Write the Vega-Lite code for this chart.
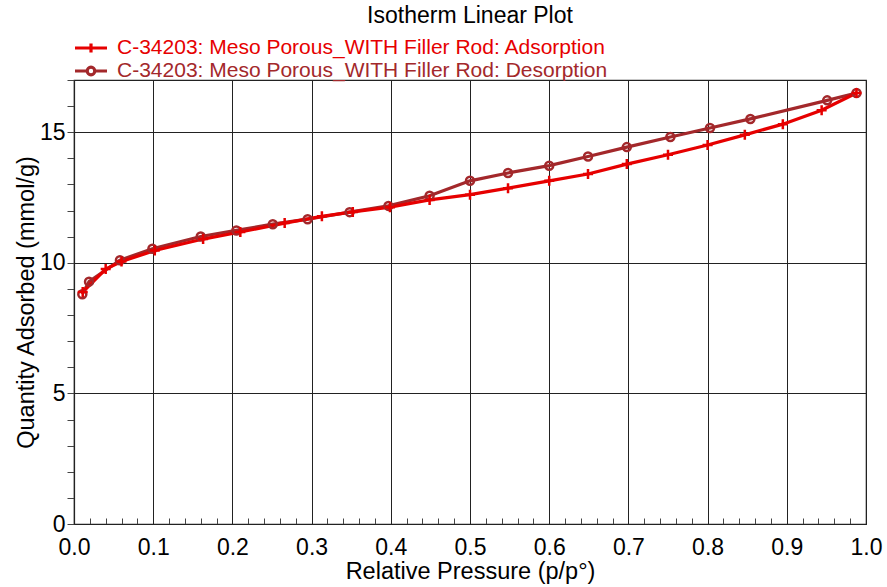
{
  "$schema": "https://vega.github.io/schema/vega-lite/v6.json",
  "width": 792,
  "height": 444,
  "autosize": "none",
  "padding": {"left": 74, "top": 80, "right": 21, "bottom": 63},
  "background": "white",
  "config": {
    "font": "Liberation Sans",
    "view": {"stroke": "#222", "strokeWidth": 1.2}
  },
  "title": {
    "text": "Isotherm Linear Plot",
    "fontSize": 23,
    "fontWeight": "normal",
    "color": "black",
    "anchor": "middle",
    "offset": 8,
    "font": "Liberation Sans"
  },
  "data": {
    "values": [
      {"series": "C-34203: Meso Porous_WITH Filler Rod: Desorption", "p": 0.988, "q": 16.50},
      {"series": "C-34203: Meso Porous_WITH Filler Rod: Desorption", "p": 0.951, "q": 16.22},
      {"series": "C-34203: Meso Porous_WITH Filler Rod: Desorption", "p": 0.854, "q": 15.51},
      {"series": "C-34203: Meso Porous_WITH Filler Rod: Desorption", "p": 0.803, "q": 15.16},
      {"series": "C-34203: Meso Porous_WITH Filler Rod: Desorption", "p": 0.753, "q": 14.82},
      {"series": "C-34203: Meso Porous_WITH Filler Rod: Desorption", "p": 0.698, "q": 14.43},
      {"series": "C-34203: Meso Porous_WITH Filler Rod: Desorption", "p": 0.649, "q": 14.07},
      {"series": "C-34203: Meso Porous_WITH Filler Rod: Desorption", "p": 0.600, "q": 13.72},
      {"series": "C-34203: Meso Porous_WITH Filler Rod: Desorption", "p": 0.548, "q": 13.44},
      {"series": "C-34203: Meso Porous_WITH Filler Rod: Desorption", "p": 0.500, "q": 13.14},
      {"series": "C-34203: Meso Porous_WITH Filler Rod: Desorption", "p": 0.449, "q": 12.57},
      {"series": "C-34203: Meso Porous_WITH Filler Rod: Desorption", "p": 0.397, "q": 12.18},
      {"series": "C-34203: Meso Porous_WITH Filler Rod: Desorption", "p": 0.348, "q": 11.94},
      {"series": "C-34203: Meso Porous_WITH Filler Rod: Desorption", "p": 0.295, "q": 11.67},
      {"series": "C-34203: Meso Porous_WITH Filler Rod: Desorption", "p": 0.251, "q": 11.48},
      {"series": "C-34203: Meso Porous_WITH Filler Rod: Desorption", "p": 0.205, "q": 11.24},
      {"series": "C-34203: Meso Porous_WITH Filler Rod: Desorption", "p": 0.160, "q": 11.01},
      {"series": "C-34203: Meso Porous_WITH Filler Rod: Desorption", "p": 0.099, "q": 10.54},
      {"series": "C-34203: Meso Porous_WITH Filler Rod: Desorption", "p": 0.058, "q": 10.10},
      {"series": "C-34203: Meso Porous_WITH Filler Rod: Desorption", "p": 0.019, "q": 9.28},
      {"series": "C-34203: Meso Porous_WITH Filler Rod: Desorption", "p": 0.0105, "q": 8.80},
      {"series": "C-34203: Meso Porous_WITH Filler Rod: Adsorption", "p": 0.011, "q": 8.88},
      {"series": "C-34203: Meso Porous_WITH Filler Rod: Adsorption", "p": 0.040, "q": 9.76},
      {"series": "C-34203: Meso Porous_WITH Filler Rod: Adsorption", "p": 0.060, "q": 10.05},
      {"series": "C-34203: Meso Porous_WITH Filler Rod: Adsorption", "p": 0.102, "q": 10.47},
      {"series": "C-34203: Meso Porous_WITH Filler Rod: Adsorption", "p": 0.163, "q": 10.91},
      {"series": "C-34203: Meso Porous_WITH Filler Rod: Adsorption", "p": 0.210, "q": 11.18},
      {"series": "C-34203: Meso Porous_WITH Filler Rod: Adsorption", "p": 0.266, "q": 11.52},
      {"series": "C-34203: Meso Porous_WITH Filler Rod: Adsorption", "p": 0.313, "q": 11.78},
      {"series": "C-34203: Meso Porous_WITH Filler Rod: Adsorption", "p": 0.352, "q": 11.95},
      {"series": "C-34203: Meso Porous_WITH Filler Rod: Adsorption", "p": 0.399, "q": 12.13},
      {"series": "C-34203: Meso Porous_WITH Filler Rod: Adsorption", "p": 0.449, "q": 12.41},
      {"series": "C-34203: Meso Porous_WITH Filler Rod: Adsorption", "p": 0.500, "q": 12.61},
      {"series": "C-34203: Meso Porous_WITH Filler Rod: Adsorption", "p": 0.548, "q": 12.86},
      {"series": "C-34203: Meso Porous_WITH Filler Rod: Adsorption", "p": 0.600, "q": 13.14},
      {"series": "C-34203: Meso Porous_WITH Filler Rod: Adsorption", "p": 0.649, "q": 13.40},
      {"series": "C-34203: Meso Porous_WITH Filler Rod: Adsorption", "p": 0.698, "q": 13.78},
      {"series": "C-34203: Meso Porous_WITH Filler Rod: Adsorption", "p": 0.750, "q": 14.14},
      {"series": "C-34203: Meso Porous_WITH Filler Rod: Adsorption", "p": 0.800, "q": 14.51},
      {"series": "C-34203: Meso Porous_WITH Filler Rod: Adsorption", "p": 0.847, "q": 14.90},
      {"series": "C-34203: Meso Porous_WITH Filler Rod: Adsorption", "p": 0.895, "q": 15.31},
      {"series": "C-34203: Meso Porous_WITH Filler Rod: Adsorption", "p": 0.944, "q": 15.84},
      {"series": "C-34203: Meso Porous_WITH Filler Rod: Adsorption", "p": 0.988, "q": 16.50}
    ]
  },
  "encoding": {
    "x": {
      "field": "p",
      "type": "quantitative",
      "scale": {"domain": [0, 1], "nice": false, "zero": false},
      "axis": {
        "title": "Relative Pressure (p/p\u00b0)",
        "titleFont": "Liberation Sans",
        "titleFontSize": 23.5,
        "titleFontWeight": "normal",
        "titleColor": "black",
        "titlePadding": 0,
        "values": [0,0.02,0.04,0.06,0.08,0.1,0.12,0.14,0.16,0.18,0.2,0.22,0.24,0.26,0.28,0.3,0.32,0.34,0.36,0.38,0.4,0.42,0.44,0.46,0.48,0.5,0.52,0.54,0.56,0.58,0.6,0.62,0.64,0.66,0.68,0.7,0.72,0.74,0.76,0.78,0.8,0.82,0.84,0.86,0.88,0.9,0.92,0.94,0.96,0.98,1],
        "labelExpr": "abs(datum.value*10 - round(datum.value*10)) < 0.001 ? format(datum.value, '.1f') : ''",
        "labelFont": "Liberation Sans",
        "labelFontSize": 23,
        "labelColor": "black",
        "labelPadding": 12,
        "labelFlush": false,
        "labelOverlap": false,
        "domainColor": "#222",
        "domainWidth": 1.2,
        "tickColor": "#444",
        "tickWidth": 1,
        "tickSize": {"condition": {"test": "abs(datum.value*10 - round(datum.value*10)) < 0.001", "value": 0}, "value": -6},
        "grid": true,
        "gridColor": "#222",
        "gridWidth": 1,
        "gridOpacity": {"condition": {"test": "abs(datum.value*10 - round(datum.value*10)) < 0.001", "value": 1}, "value": 0}
      }
    },
    "y": {
      "field": "q",
      "type": "quantitative",
      "scale": {"domain": [0, 17], "nice": false},
      "axis": {
        "title": "Quantity Adsorbed (mmol/g)",
        "titleFont": "Liberation Sans",
        "titleFontSize": 23.5,
        "titleFontWeight": "normal",
        "titleColor": "black",
        "titlePadding": 1,
        "values": [0,1,2,3,4,5,6,7,8,9,10,11,12,13,14,15,16,17],
        "labelExpr": "datum.value % 5 == 0 ? format(datum.value, 'd') : ''",
        "labelFont": "Liberation Sans",
        "labelFontSize": 23,
        "labelColor": "black",
        "labelPadding": 2,
        "labelFlush": false,
        "labelOverlap": false,
        "domainColor": "#222",
        "domainWidth": 1.2,
        "tickColor": "#444",
        "tickWidth": 1,
        "tickSize": 7,
        "grid": true,
        "gridColor": "#222",
        "gridWidth": 1,
        "gridOpacity": {"condition": {"test": "datum.value % 5 == 0", "value": 1}, "value": 0}
      }
    }
  },
  "layer": [
    {
      "mark": {"type": "line", "strokeWidth": 3.2},
      "encoding": {
        "color": {
          "field": "series",
          "type": "nominal",
          "scale": {
            "domain": ["C-34203: Meso Porous_WITH Filler Rod: Adsorption", "C-34203: Meso Porous_WITH Filler Rod: Desorption"],
            "range": ["#e60000", "#a3282b"]
          },
          "legend": {
            "title": null,
            "orient": "none",
            "legendX": 5,
            "legendY": -44,
            "padding": 0,
            "labelFont": "Liberation Sans",
            "labelFontSize": 21,
            "labelLimit": 0,
            "labelOffset": 14,
            "rowPadding": -5,
            "symbolSize": 400,
            "symbolStrokeWidth": 3.2,
            "symbolType": "M-1.6,0H1.6",
            "encode": {
              "symbols": {
                "update": {
                  "shape": {"signal": "indexof(datum.value, 'Adsorption') >= 0 ? 'M-1.6,0H1.6M0,-0.45V0.45' : 'M-1.6,0H-0.38M0.38,0H1.6M-0.38,0A0.38,0.38 0 1,0 0.38,0A0.38,0.38 0 1,0 -0.38,0'"}
                }
              },
              "labels": {
                "update": {
                  "fill": {"signal": "indexof(datum.value, 'Adsorption') >= 0 ? '#e60000' : '#a3282b'"}
                }
              }
            }
          }
        }
      }
    },
    {
      "transform": [{"filter": "indexof(datum.series, 'Desorption') >= 0"}],
      "mark": {"type": "point", "shape": "circle", "filled": false, "strokeWidth": 2.5, "opacity": 1, "size": 64, "color": "#a3282b"}
    },
    {
      "transform": [{"filter": "indexof(datum.series, 'Adsorption') >= 0"}],
      "mark": {"type": "point", "shape": "M-1.25,0H1.25M0,-1.25V1.25", "filled": false, "strokeWidth": 2.5, "opacity": 1, "size": 64, "color": "#e60000"}
    }
  ]
}
